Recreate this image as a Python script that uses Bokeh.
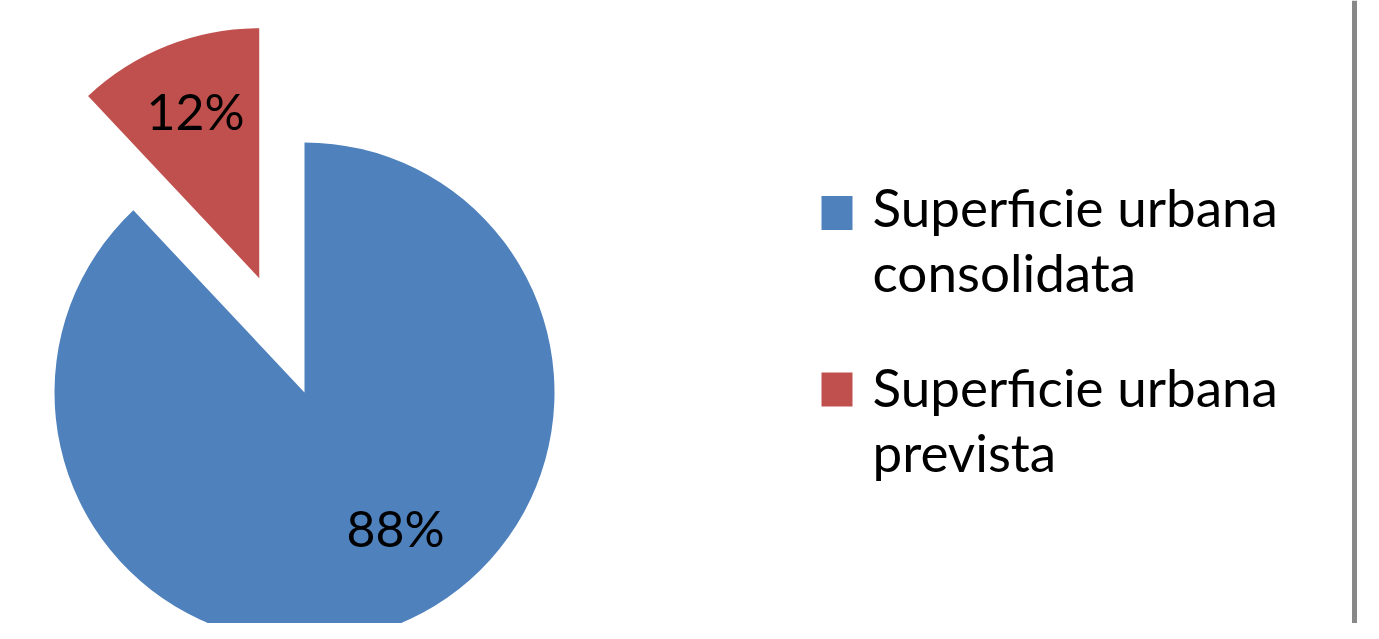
import math
from bokeh.plotting import figure
from bokeh.models import Range1d, Span
from bokeh.core.properties import value
from bokeh.embed import file_html
from bokeh.resources import INLINE

# ---- data ----
categories = ["Superficie urbana consolidata", "Superficie urbana prevista"]
legend_lines = [["Superficie urbana", "consolidata"], ["Superficie urbana", "prevista"]]
shares = [88, 12]
labels = ["88%", "12%"]
colors = ["#4F81BD", "#C0504D"]

# ---- layout: pixel coordinates, y downward ----
W, H = 1363, 623

def X(sx):
    return sx

def Y(sy):
    return -sy

p = figure(width=W, height=H, output_backend="svg", toolbar_location=None,
           x_range=Range1d(0, W), y_range=Range1d(-H, 0), min_border=0)
p.axis.visible = False
p.grid.visible = False
p.outline_line_color = None
p.background_fill_color = "white"

cx, cy, R = 304, 392, 250
explode = 123
FONT = value("Lato")

# slices drawn counter-clockwise from 12 o'clock: prevista (exploded) first, then consolidata
total = sum(shares)
order = [1, 0]
label_pos = {0: (395, 527), 1: (195, 110)}
start = math.pi / 2
for i in order:
    sweep = 2 * math.pi * shares[i] / total
    end = start + sweep
    mid = (start + end) / 2
    dx = dy = 0.0
    if i == 1:
        dx = explode * math.cos(mid)
        dy = explode * math.sin(mid)
    p.wedge(x=[X(cx) + dx], y=[Y(cy) + dy], radius=R, start_angle=[start], end_angle=[end],
            direction="anticlock", fill_color=colors[i], line_color=None)
    lx, ly = label_pos[i]
    p.text(x=[X(lx)], y=[Y(ly)], text=[labels[i]], text_align="center", text_baseline="middle",
           text_font=FONT, text_font_size="50px", text_color="black")
    start = end

# legend
sq_x = 836.5
sq_y = [212.5, 389]
line_mid = [[206, 271], [386, 451]]
for k in range(2):
    p.rect(x=[X(sq_x)], y=[Y(sq_y[k])], width=31, height=34, fill_color=colors[k], line_color=None)
    for j, line in enumerate(legend_lines[k]):
        p.text(x=[X(872)], y=[Y(line_mid[k][j])], text=[line], text_align="left",
               text_baseline="middle", text_font=FONT, text_font_size="53px",
               text_color="black")

p.add_layout(Span(location=X(1354), dimension="height", line_color="#888888", line_width=5))

open("out.html", "w").write(file_html(p, INLINE))
